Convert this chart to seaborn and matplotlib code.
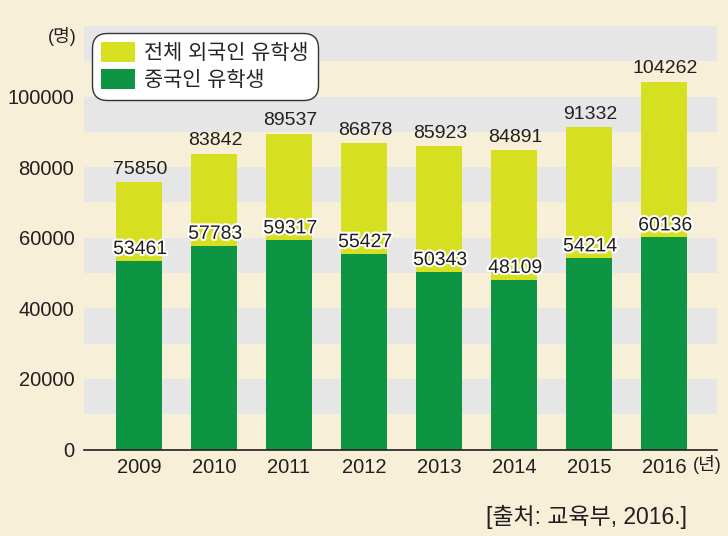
import matplotlib
matplotlib.use("Agg")
import matplotlib.pyplot as plt
import matplotlib.patheffects as pe
from matplotlib.patches import Patch
import seaborn as sns
import pandas as pd

years = ["2009", "2010", "2011", "2012", "2013", "2014", "2015", "2016"]
total_students = [75850, 83842, 89537, 86878, 85923, 84891, 91332, 104262]
chinese_students = [53461, 57783, 59317, 55427, 50343, 48109, 54214, 60136]
legend_labels = ["전체 외국인 유학생", "중국인 유학생"]
y_ticks = [0, 20000, 40000, 60000, 80000, 100000]

YELLOW = "#d7df21"
GREEN = "#0e9544"
BG = "#f8efd8"
BAND = "#e6e6e6"

sns.set_theme(style="white")
plt.rcParams["font.family"] = ["Liberation Sans", "Noto Sans CJK KR", "DejaVu Sans"]

df = pd.DataFrame({"year": years, "total": total_students, "china": chinese_students})

fig = plt.figure(figsize=(7.28, 5.36), dpi=100)
fig.patch.set_facecolor(BG)
ax = fig.add_axes([84 / 728, 86.5 / 536, (717 - 84) / 728, (510 - 86.5) / 536])
ax.set_facecolor("none")

for lo in range(10000, 120000, 20000):
    ax.axhspan(lo, lo + 10000, color=BAND, zorder=0, lw=0)

sns.barplot(data=df, x="year", y="total", order=years, color=YELLOW,
            width=0.613, saturation=1, linewidth=0, edgecolor="none", ax=ax, zorder=2)
sns.barplot(data=df, x="year", y="china", order=years, color=GREEN,
            width=0.613, saturation=1, linewidth=0, edgecolor="none", ax=ax, zorder=3)

ax.set_xlim(-0.733, 7.707)
ax.set_ylim(0, 120000)
ax.set_yticks(y_ticks)
ax.set_yticklabels([str(v) for v in y_ticks])
ax.set_xlabel("")
ax.set_ylabel("")
ax.tick_params(axis="both", length=0, labelsize=14.5, colors="#231f20")
ax.tick_params(axis="x", pad=6)
ax.tick_params(axis="y", pad=7)

for s in ["top", "right", "left"]:
    ax.spines[s].set_visible(False)
ax.spines["bottom"].set_color("#231f20")
ax.spines["bottom"].set_linewidth(1.2)
ax.spines["bottom"].set_zorder(5)

for i, (t, c) in enumerate(zip(total_students, chinese_students)):
    ax.annotate(str(t), (i, t), xytext=(1, 3), textcoords="offset points",
                ha="center", va="bottom", fontsize=14, color="#231f20", zorder=6)
    ax.annotate(str(c), (i, c), xytext=(1, 2), textcoords="offset points",
                ha="center", va="bottom", fontsize=14, color="#231f20", zorder=6,
                path_effects=[pe.withStroke(linewidth=3, foreground="white")])

handles = [Patch(facecolor=YELLOW, edgecolor="none"), Patch(facecolor=GREEN, edgecolor="none")]
leg = ax.legend(handles, legend_labels, loc="upper left",
                bbox_to_anchor=((92 - 84) / 633, (536 - 33 - 86.5) / 423.5),
                frameon=True, fancybox=True, fontsize=15,
                handlelength=1.6, handleheight=1.05, handletextpad=0.45,
                labelspacing=0.3, borderpad=0.45, borderaxespad=0)
frame = leg.get_frame()
frame.set_edgecolor("#333333")
frame.set_linewidth(1.0)
frame.set_facecolor("white")
frame.set_alpha(1)
frame.set_boxstyle("round,pad=0,rounding_size=0.7")
leg.set_zorder(10)

fig.text(77 / 728, 1 - 36 / 536, "(명)", ha="right", va="center", fontsize=13, color="#231f20")
fig.text(693 / 728, 1 - 465 / 536, "(년)", ha="left", va="center", fontsize=13, color="#231f20")
fig.text(486 / 728, 1 - 517 / 536, "[출처: 교육부, 2016.]", ha="left", va="center",
         fontsize=16.5, color="#231f20")

fig.savefig("out.png", dpi=100, facecolor=BG)
